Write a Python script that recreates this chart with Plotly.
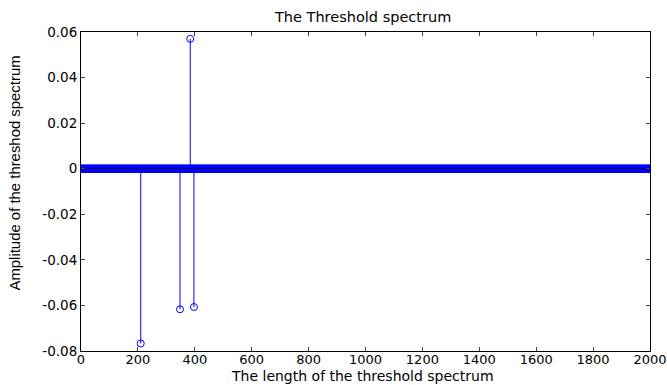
import numpy as np
import plotly.graph_objects as go

n_points = 2000
spike_pos = [210, 348, 384, 397]
spike_val = [-0.0767, -0.0617, 0.0570, -0.0607]
x_ticks = [0, 200, 400, 600, 800, 1000, 1200, 1400, 1600, 1800, 2000]
y_ticks = [-0.08, -0.06, -0.04, -0.02, 0, 0.02, 0.04, 0.06]
y_tick_text = ["-0.08", "-0.06", "-0.04", "-0.02", "0", "0.02", "0.04", "0.06"]

x = np.arange(1, n_points + 1)
y = np.zeros(n_points)
for p, v in zip(spike_pos, spike_val):
    y[p - 1] = v

blue = "rgb(0,0,255)"

# stems
sx, sy = [], []
for xi, yi in zip(x, y):
    if yi != 0:
        sx += [xi, xi, None]
        sy += [0, yi, None]

fig = go.Figure()
fig.add_trace(go.Scatter(x=sx, y=sy, mode="lines", line=dict(color=blue, width=1),
                         hoverinfo="skip", showlegend=False))
fig.add_trace(go.Scatter(x=x, y=y, mode="markers",
                         marker=dict(symbol="circle-open", size=7, color=blue,
                                     line=dict(width=1, color=blue)),
                         showlegend=False))
fig.add_trace(go.Scatter(x=[x[0], x[-1]], y=[0, 0], mode="lines",
                         line=dict(color="rgb(0,0,90)", width=1), showlegend=False,
                         hoverinfo="skip"))

W, H = 667, 385
L, R, T, B = 81, 17, 32, 34
wide = "DejaVu Sans, Verdana, sans-serif"
narrow = "Liberation Sans, Arial, sans-serif"

def px_x(p):
    return (p - L) / (W - L - R)

def px_y(p):
    return 1 - (p - T) / (H - T - B)

fig.update_layout(
    width=W, height=H,
    margin=dict(l=L, r=R, t=T, b=B, autoexpand=False),
    paper_bgcolor="white", plot_bgcolor="white",
    font=dict(family=wide, size=14, color="black"),
    xaxis=dict(range=[0, 2000], tickvals=x_ticks, ticks="inside", ticklen=4,
               showline=True, linecolor="black", linewidth=1, mirror="allticks",
               showgrid=False, zeroline=False, tickfont=dict(size=13, family=wide),
               ticklabeloverflow="allow", ticklabelstandoff=-4, automargin=False),
    yaxis=dict(range=[-0.08, 0.06], tickvals=y_ticks, ticktext=y_tick_text,
               ticks="inside", ticklen=4, showline=True, linecolor="black",
               linewidth=1, mirror="allticks", showgrid=False, zeroline=False,
               tickfont=dict(size=13.5, family=wide), ticklabeloverflow="allow",
               automargin=False),
    annotations=[
        dict(text="The Threshold spectrum", xref="paper", yref="paper",
             x=px_x(362.5), y=px_y(17), xanchor="center", yanchor="middle",
             showarrow=False, font=dict(size=14.5, family=wide)),
        dict(text="The length of the threshold spectrum", xref="paper", yref="paper",
             x=px_x(362), y=px_y(376), xanchor="center", yanchor="middle",
             showarrow=False, font=dict(size=14, family=wide)),
        dict(text="Amplitude of the threshod spectrum", xref="paper", yref="paper",
             x=px_x(15), y=px_y(173.5), xanchor="center", yanchor="middle",
             textangle=-90, showarrow=False, font=dict(size=14.9, family=narrow)),
    ],
)
fig.write_html("out.html")
